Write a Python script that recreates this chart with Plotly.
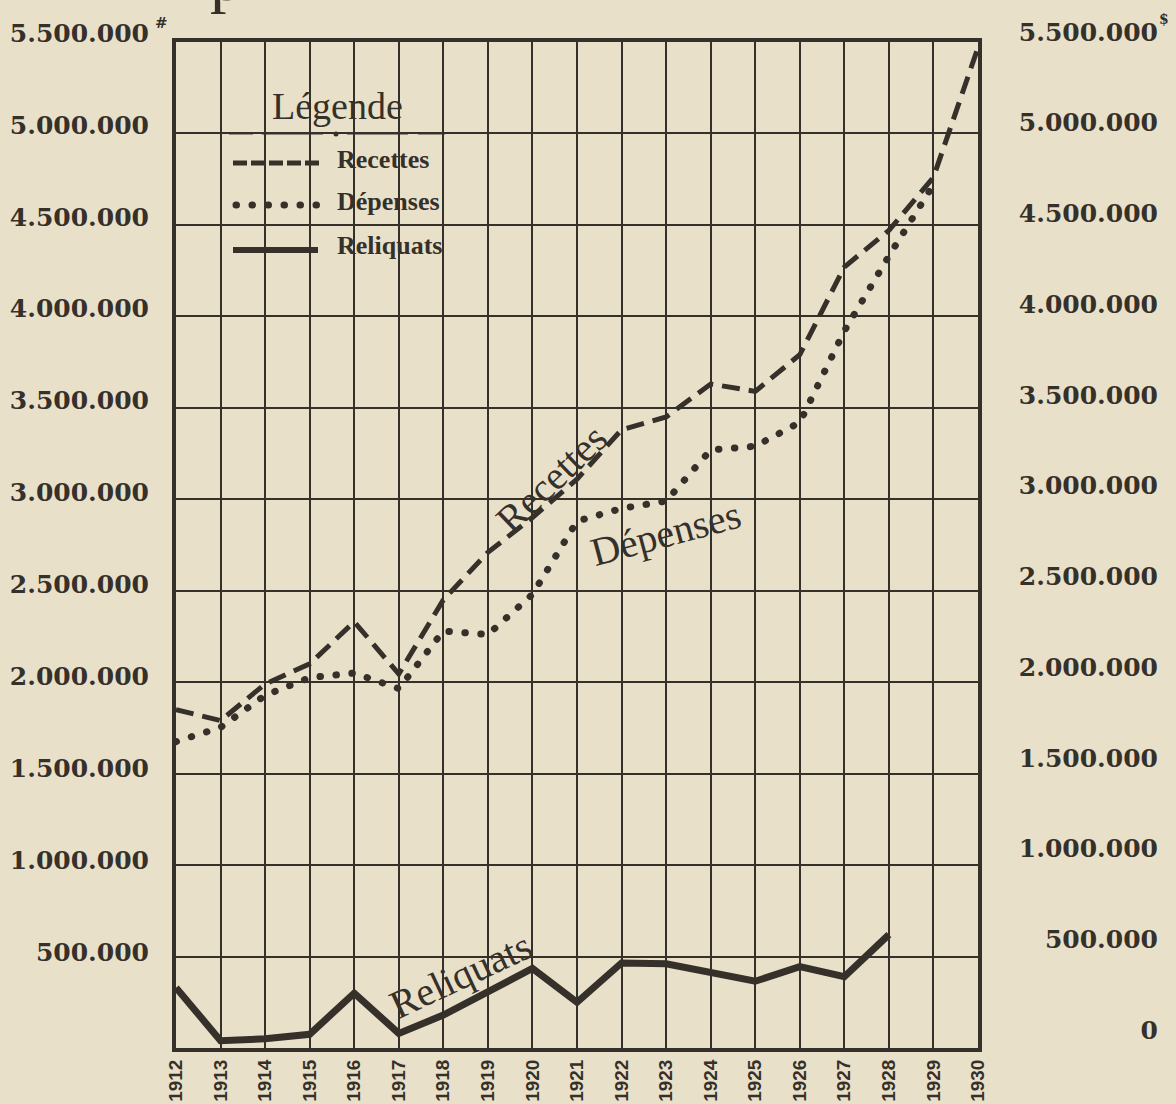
import plotly.graph_objects as go

# ---------------- data ----------------
years = [1912, 1913, 1914, 1915, 1916, 1917, 1918, 1919, 1920, 1921,
         1922, 1923, 1924, 1925, 1926, 1927, 1928, 1929, 1930]
year_labels = ["1912", "1913", "1914", "1915", "1916", "1917", "1918", "1919", "1920", "1921",
               "1922", "1923", "1924", "1925", "1926", "1927", "1928", "1929", "1930"]

recettes = [1850000, 1790000, 1990000, 2100000, 2330000, 2045000, 2450000, 2710000, 2900000, 3110000,
            3380000, 3450000, 3630000, 3590000, 3790000, 4270000, 4470000, 4760000, 5470000]
depenses = [1675000, 1753000, 1928000, 2025000, 2050000, 1965000, 2280000, 2260000, 2480000, 2880000,
            2950000, 2990000, 3270000, 3290000, 3420000, 3920000, 4330000, 4720000, None]
reliquats = [330000, 40000, 50000, 75000, 300000, 80000, 180000, 305000, 435000, 250000,
             465000, 460000, 410000, 365000, 445000, 390000, 620000, None, None]

left_tick_values = [500000, 1000000, 1500000, 2000000, 2500000, 3000000,
                    3500000, 4000000, 4500000, 5000000, 5500000]
left_tick_labels = ["500.000", "1.000.000", "1.500.000", "2.000.000", "2.500.000", "3.000.000",
                    "3.500.000", "4.000.000", "4.500.000", "5.000.000", "5.500.000"]
right_tick_values = [0, 500000, 1000000, 1500000, 2000000, 2500000, 3000000,
                     3500000, 4000000, 4500000, 5000000, 5500000]
right_tick_labels = ["0", "500.000", "1.000.000", "1.500.000", "2.000.000", "2.500.000", "3.000.000",
                     "3.500.000", "4.000.000", "4.500.000", "5.000.000", "5.500.000"]

series_names = ["Recettes", "Dépenses", "Reliquats"]
legend_title = "Légende"

# ---------------- geometry / style ----------------
W, H = 1176, 1104
ML, MR, MT, MB = 176, 9, 20, 56
PW = W - ML - MR
PH = H - MT - MB
PLOT_L, PLOT_R, PLOT_T, PLOT_B = 176, 978, 42, 1048
YMAX = 5500000

INK = "#35302a"
BG = "#e9e0c9"
SERIF = "Liberation Serif"
NUMFONT = "DejaVu Serif"


def fx(px):
    return (px - ML) / PW


def fy(py):
    return (H - MB - py) / PH


def dx(px):
    return years[0] + (px - PLOT_L) / (PLOT_R - PLOT_L) * (years[-1] - years[0])


def dy(py):
    return (PLOT_B - py) / (PLOT_B - PLOT_T) * YMAX


DOT_DASH = "0.5px,15.5px"

fig = go.Figure()

fig.add_trace(go.Scatter(x=years, y=recettes, mode="lines", name=series_names[0],
                         line=dict(color=INK, width=5, dash="18px,9px"),
                         hoverinfo="skip", showlegend=False))
fig.add_trace(go.Scatter(x=years, y=depenses, mode="lines", name=series_names[1],
                         line=dict(color=INK, width=7, dash=DOT_DASH),
                         hoverinfo="skip", showlegend=False))
fig.add_trace(go.Scatter(x=years, y=reliquats, mode="lines", name=series_names[2],
                         line=dict(color=INK, width=7),
                         hoverinfo="skip", showlegend=False))
# invisible anchors for the label-only axes
fig.add_trace(go.Scatter(x=[0], y=[0], xaxis="x2", yaxis="y2", mode="markers",
                         marker=dict(opacity=0), hoverinfo="skip", showlegend=False))
fig.add_trace(go.Scatter(x=[0], y=[0], xaxis="x2", yaxis="y3", mode="markers",
                         marker=dict(opacity=0), hoverinfo="skip", showlegend=False))

shapes = []
# legend box (hides vertical grid)
shapes.append(dict(type="rect", xref="x", yref="y", layer="below",
                   x0=dx(229), x1=dx(445), y0=dy(262), y1=dy(88),
                   fillcolor=BG, line=dict(width=0)))
# 4.500.000 line across the box
shapes.append(dict(type="line", xref="x", yref="y", layer="below",
                   x0=dx(229), x1=dx(445), y0=4500000, y1=4500000,
                   line=dict(color=INK, width=2)))
# underline of "Légende" on the 5.000.000 line
for a, b in [(229, 253), (262, 323), (347, 408), (418, 445)]:
    shapes.append(dict(type="line", xref="x", yref="y", layer="below",
                       x0=dx(a), x1=dx(b), y0=5000000, y1=5000000,
                       line=dict(color=INK, width=2)))
shapes.append(dict(type="circle", xref="paper", yref="paper", layer="above",
                   x0=fx(333.5), x1=fx(338.5), y0=fy(136.5), y1=fy(131.5),
                   fillcolor=INK, line=dict(width=0)))
# legend samples
shapes.append(dict(type="line", xref="paper", yref="paper", x0=fx(233), x1=fx(319),
                   y0=fy(163), y1=fy(163), line=dict(color=INK, width=5, dash="14px,4px")))
shapes.append(dict(type="line", xref="paper", yref="paper", x0=fx(236), x1=fx(318),
                   y0=fy(205), y1=fy(205), line=dict(color=INK, width=7, dash=DOT_DASH)))
shapes.append(dict(type="line", xref="paper", yref="paper", x0=fx(233), x1=fx(318),
                   y0=fy(250), y1=fy(250), line=dict(color=INK, width=6)))

annotations = []


def ann(text, px, py, size, family=SERIF, angle=0, xanchor="center"):
    annotations.append(dict(text=text, x=fx(px), y=fy(py), xref="paper", yref="paper",
                            showarrow=False, textangle=angle, xanchor=xanchor, yanchor="middle",
                            font=dict(family=family, size=size, color=INK)))


ann(legend_title, 337, 106, 38)
ann("<b>" + series_names[0] + "</b>", 335, 160, 26, xanchor="left")
ann("<b>" + series_names[1] + "</b>", 335, 201, 26, xanchor="left")
ann("<b>" + series_names[2] + "</b>", 335, 245, 26, xanchor="left")
# labels along the curves
ann(series_names[0], 552, 479, 40, angle=-44)
ann(series_names[1], 665, 533, 40, angle=-15)
ann(series_names[2], 460, 975, 40, angle=-25)
# currency marks
ann("<b>#</b>", 161, 23, 15, family=NUMFONT)
ann("<b>$</b>", 1164, 19, 14, family=NUMFONT)
# descender of the cut-off title letter above the chart
ann("p", 226, -22, 66)

NOAM = dict(automargin=False)

fig.update_layout(
    width=W, height=H,
    margin=dict(l=ML, r=MR, t=MT, b=MB, pad=0, autoexpand=False),
    paper_bgcolor=BG, plot_bgcolor="rgba(0,0,0,0)",
    showlegend=False,
    xaxis=dict(domain=[0, fx(PLOT_R)], range=[years[0], years[-1]], anchor="y",
               tickmode="array", tickvals=years, ticktext=year_labels, tickangle=-90,
               tickfont=dict(family="Liberation Sans", size=19, color=INK, weight=700),
               ticks="", ticklabelstandoff=0,
               showgrid=True, gridcolor=INK, gridwidth=2,
               showline=True, linecolor=INK, linewidth=4, mirror=True,
               zeroline=False, fixedrange=True, **NOAM),
    yaxis=dict(domain=[0, fy(PLOT_T)], range=[0, YMAX], anchor="x",
               tickmode="linear", tick0=0, dtick=500000, showticklabels=False, ticks="",
               showgrid=True, gridcolor=INK, gridwidth=2,
               showline=True, linecolor=INK, linewidth=4, mirror=True,
               zeroline=False, fixedrange=True, **NOAM),
    xaxis2=dict(domain=[0, fx(PLOT_R)], range=[0, 1], visible=False, anchor="y3",
                fixedrange=True, **NOAM),
    yaxis3=dict(domain=[fy(1044), fy(33)], range=[0, YMAX], anchor="x2", side="left",
                tickmode="array", tickvals=left_tick_values, ticktext=left_tick_labels,
                tickfont=dict(family=NUMFONT, size=25, color=INK, weight=700),
                ticks="", ticklabelstandoff=26,
                showgrid=False, showline=False, zeroline=False, fixedrange=True, **NOAM),
    yaxis2=dict(domain=[fy(1030), fy(32)], range=[0, YMAX], anchor="free", position=1,
                side="left",
                tickmode="array", tickvals=right_tick_values, ticktext=right_tick_labels,
                tickfont=dict(family=NUMFONT, size=25, color=INK, weight=700),
                ticks="", ticklabelstandoff=9,
                showgrid=False, showline=False, zeroline=False, fixedrange=True, **NOAM),
    shapes=shapes,
    annotations=annotations,
)

post = """
document.documentElement.style.margin = '0';
document.documentElement.style.overflow = 'hidden';
document.body.style.margin = '0';
document.body.style.padding = '0';
document.body.style.overflow = 'hidden';
document.body.style.background = '#e9e0c9';
var gd = document.getElementById('{plot_id}');
function rc(){
  gd.querySelectorAll('path').forEach(function(p){
    var d = (p.style && p.style.strokeDasharray) || p.getAttribute('stroke-dasharray') || '';
    if (d.indexOf('15.5') >= 0) { p.style.strokeLinecap = 'round'; }
  });
}
rc(); setTimeout(rc, 30);
if (gd.on) { gd.on('plotly_afterplot', rc); }
"""

fig.write_html("out.html", config={"staticPlot": True}, post_script=post)
